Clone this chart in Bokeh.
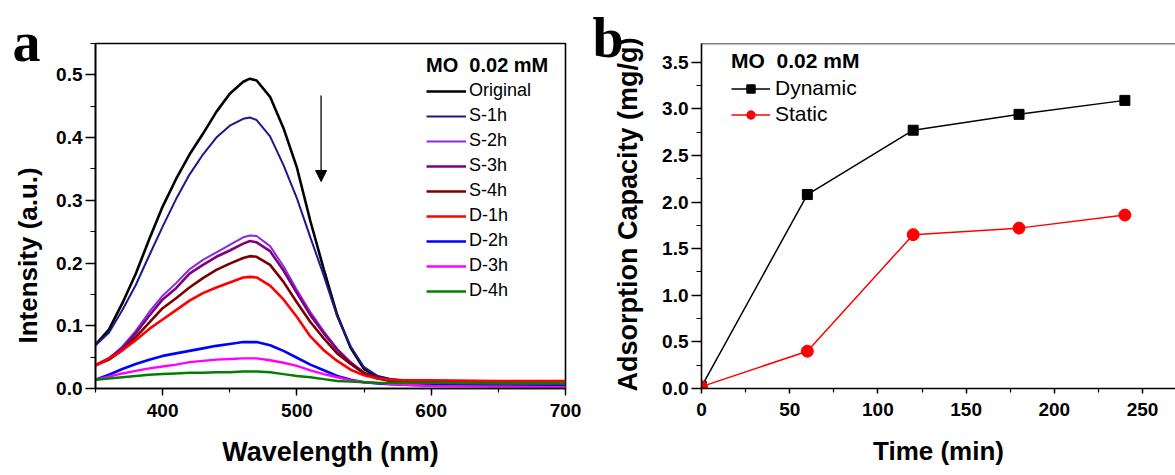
from bokeh.plotting import figure
from bokeh.models import (Legend, LegendItem, Title, Arrow, NormalHead, Span,
                          PrintfTickFormatter, SingleIntervalTicker, Range1d)
from bokeh.layouts import row
from bokeh.embed import file_html
from bokeh.resources import INLINE

# ---------------- Panel a data: UV-vis spectra ----------------
wavelength = [350, 360, 370, 380, 390, 400, 410, 420, 430, 440, 450, 460, 465, 470,
              480, 490, 500, 510, 520, 530, 540, 550, 560, 570, 580, 600, 650, 700]
original = [0.070, 0.094, 0.136, 0.183, 0.238, 0.290, 0.334, 0.373, 0.406, 0.441, 0.470, 0.489, 0.494, 0.491,
            0.465, 0.415, 0.352, 0.267, 0.190, 0.117, 0.065, 0.031, 0.019, 0.014, 0.012, 0.010, 0.008, 0.007]
s_1h = [0.069, 0.089, 0.125, 0.165, 0.212, 0.258, 0.302, 0.341, 0.373, 0.400, 0.419, 0.430, 0.432, 0.428,
        0.402, 0.356, 0.303, 0.241, 0.180, 0.115, 0.067, 0.034, 0.020, 0.015, 0.013, 0.012, 0.011, 0.011]
s_2h = [0.037, 0.048, 0.067, 0.092, 0.122, 0.148, 0.168, 0.190, 0.205, 0.217, 0.229, 0.241, 0.244, 0.243,
        0.227, 0.195, 0.157, 0.122, 0.091, 0.063, 0.042, 0.025, 0.017, 0.012, 0.009, 0.005, 0.003, 0.002]
s_3h = [0.037, 0.048, 0.064, 0.088, 0.116, 0.142, 0.160, 0.183, 0.197, 0.210, 0.220, 0.231, 0.235, 0.233,
        0.219, 0.188, 0.152, 0.117, 0.088, 0.062, 0.041, 0.025, 0.017, 0.012, 0.009, 0.006, 0.004, 0.003]
s_4h = [0.037, 0.046, 0.061, 0.082, 0.105, 0.128, 0.144, 0.161, 0.176, 0.189, 0.199, 0.208, 0.211, 0.210,
        0.197, 0.170, 0.137, 0.106, 0.080, 0.056, 0.039, 0.024, 0.016, 0.012, 0.010, 0.008, 0.006, 0.006]
d_1h = [0.037, 0.048, 0.061, 0.077, 0.095, 0.110, 0.125, 0.140, 0.152, 0.161, 0.169, 0.177, 0.178, 0.177,
        0.164, 0.142, 0.114, 0.083, 0.061, 0.044, 0.030, 0.021, 0.016, 0.014, 0.013, 0.013, 0.012, 0.012]
d_2h = [0.014, 0.022, 0.031, 0.039, 0.046, 0.052, 0.056, 0.060, 0.064, 0.068, 0.071, 0.074, 0.074, 0.074,
        0.069, 0.060, 0.049, 0.038, 0.029, 0.020, 0.014, 0.010, 0.008, 0.007, 0.006, 0.005, 0.005, 0.004]
d_3h = [0.014, 0.019, 0.024, 0.028, 0.032, 0.035, 0.038, 0.042, 0.044, 0.046, 0.047, 0.048, 0.048, 0.048,
        0.045, 0.041, 0.036, 0.029, 0.023, 0.018, 0.013, 0.010, 0.009, 0.007, 0.006, 0.004, 0.003, 0.002]
d_4h = [0.014, 0.016, 0.018, 0.020, 0.022, 0.023, 0.024, 0.025, 0.025, 0.026, 0.026, 0.027, 0.027, 0.027,
        0.026, 0.023, 0.020, 0.018, 0.015, 0.012, 0.011, 0.010, 0.009, 0.009, 0.009, 0.009, 0.008, 0.008]

spectra_names = ["Original", "S-1h", "S-2h", "S-3h", "S-4h", "D-1h", "D-2h", "D-3h", "D-4h"]
spectra_values = [original, s_1h, s_2h, s_3h, s_4h, d_1h, d_2h, d_3h, d_4h]
spectra_colors = ["#000000", "#1a1a8c", "#8a2be2", "#800080", "#7a0000",
                  "#ff0000", "#0000ff", "#ff00ff", "#008000"]
spectra_widths = [2.6, 2.0, 2.0, 2.6, 2.6, 2.6, 2.6, 2.4, 2.4]

# arrow (annotation) in data units
arrow_x = 518
arrow_y_top = 0.467
arrow_y_tip = 0.330

# ---------------- Panel b data: adsorption capacity ----------------
time_min = [0, 60, 120, 180, 240]
dynamic = [0.02, 2.08, 2.77, 2.94, 3.09]
static = [0.02, 0.40, 1.65, 1.72, 1.86]

FONT = "Liberation Sans"
SERIF = "Liberation Serif"


def style_axes(p, xint, yint, x_tick_out, x_minor_out):
    p.xaxis.ticker = SingleIntervalTicker(interval=xint, num_minor_ticks=2)
    p.yaxis.ticker = SingleIntervalTicker(interval=yint, num_minor_ticks=2)
    p.yaxis.formatter = PrintfTickFormatter(format="%.1f")
    for ax in (p.xaxis[0], p.yaxis[0]):
        ax.axis_line_width = 1.6
        ax.axis_line_color = "black"
        ax.major_tick_line_color = "black"
        ax.minor_tick_line_color = "black"
        ax.major_tick_line_width = 1.4
        ax.minor_tick_line_width = 1.2
        ax.major_tick_in = 0
        ax.minor_tick_in = 0
        ax.major_label_text_font = FONT
        ax.major_label_text_font_style = "bold"
        ax.major_label_text_font_size = "19px"
        ax.major_label_text_color = "black"
        ax.axis_label_text_font = FONT
        ax.axis_label_text_font_style = "bold"
        ax.axis_label_text_color = "black"
    p.yaxis.major_tick_out = 10
    p.yaxis.minor_tick_out = 5
    p.xaxis.major_tick_out = x_tick_out
    p.xaxis.minor_tick_out = x_minor_out
    p.yaxis.major_label_standoff = 3
    p.xgrid.visible = False
    p.ygrid.visible = False


# ================= Panel a =================
pa = figure(width=590, height=475, output_backend="svg", toolbar_location=None,
            x_range=Range1d(350, 700), y_range=Range1d(0, 0.55),
            min_border_left=95, min_border_right=25, min_border_top=43, min_border_bottom=87)
pa.outline_line_color = "black"
pa.outline_line_width = 1.6
pa.background_fill_color = "white"
pa.border_fill_color = "white"
style_axes(pa, 100, 0.1, 7, 4)
pa.xaxis.major_label_standoff = 8
pa.xaxis.axis_label = "Wavelength (nm)"
pa.xaxis.axis_label_text_font_size = "27px"
pa.xaxis.axis_label_standoff = 17

items_a = []
for name, vals, col, lw in zip(spectra_names, spectra_values, spectra_colors, spectra_widths):
    r = pa.line(wavelength, vals, line_color=col, line_width=lw)
    items_a.append(LegendItem(label=name, renderers=[r]))

leg_a = Legend(items=items_a, location=(331, 87), title="MO  0.02 mM",
               title_text_font=FONT, title_text_font_style="bold", title_text_font_size="20px",
               title_text_color="black", title_standoff=3,
               label_text_font=FONT, label_text_font_size="18px", label_text_color="black",
               glyph_width=40, glyph_height=20, label_height=20, spacing=4, padding=5,
               label_standoff=3, border_line_color=None, background_fill_alpha=0)
pa.add_layout(leg_a, "center")

pa.add_layout(Arrow(end=NormalHead(size=11, fill_color="black", line_color="black"),
                    x_start=arrow_x, y_start=arrow_y_top, x_end=arrow_x, y_end=arrow_y_tip,
                    line_width=1.3, line_color="black"))

pa.add_layout(Title(text="Intensity (a.u.)", align="left", offset=45, vertical_align="middle",
                    standoff=20, text_font=FONT, text_font_style="bold", text_font_size="26px",
                    text_color="black"), "left")
pa.add_layout(Title(text="a", align="left", offset=-83, vertical_align="bottom", standoff=-58,
                    text_font=SERIF, text_font_style="bold", text_font_size="56px",
                    text_color="black"), "above")

# ================= Panel b =================
pb = figure(width=585, height=475, output_backend="svg", toolbar_location=None,
            x_range=Range1d(0, 268.7), y_range=Range1d(0, 3.7),
            min_border_left=111, min_border_right=0, min_border_top=36, min_border_bottom=81)
pb.outline_line_color = None
pb.background_fill_color = "white"
pb.border_fill_color = "white"
style_axes(pb, 50, 0.5, 5, 4)
pb.xaxis.major_label_standoff = 9
pb.xaxis.axis_label = "Time (min)"
pb.xaxis.axis_label_text_font_size = "26px"
pb.xaxis.axis_label_standoff = 17
pb.add_layout(Span(location=3.7, dimension="width", line_color="black", line_width=1.6))

ld = pb.line(time_min, dynamic, line_color="black", line_width=1.5)
sd = pb.scatter(time_min, dynamic, marker="square", size=10, fill_color="black", line_color="black")
ls = pb.line(time_min, static, line_color="red", line_width=1.5)
ss = pb.scatter(time_min, static, marker="circle", size=12, fill_color="red", line_color="red")

leg_b = Legend(items=[LegendItem(label="Dynamic", renderers=[ld, sd]),
                      LegendItem(label="Static", renderers=[ls, ss])],
               location=(30, 262), title="MO  0.02 mM",
               title_text_font=FONT, title_text_font_style="bold", title_text_font_size="21px",
               title_text_color="black", title_standoff=3,
               label_text_font=FONT, label_text_font_size="21px", label_text_color="black",
               glyph_width=39, glyph_height=21, label_height=21, spacing=2, padding=5,
               label_standoff=5, border_line_color=None, background_fill_alpha=0)
pb.add_layout(leg_b, "center")

pb.add_layout(Title(text="Adsorption Capacity (mg/g)", align="left", offset=-3, vertical_align="middle",
                    standoff=32, text_font=FONT, text_font_style="bold", text_font_size="27px",
                    text_color="black"), "left")
pb.add_layout(Title(text="b", align="left", offset=-109, vertical_align="bottom", standoff=-50,
                    text_font=SERIF, text_font_style="bold", text_font_size="56px",
                    text_color="black"), "above")

layout = row(pa, pb)
open("out.html", "w").write(file_html(layout, INLINE))
